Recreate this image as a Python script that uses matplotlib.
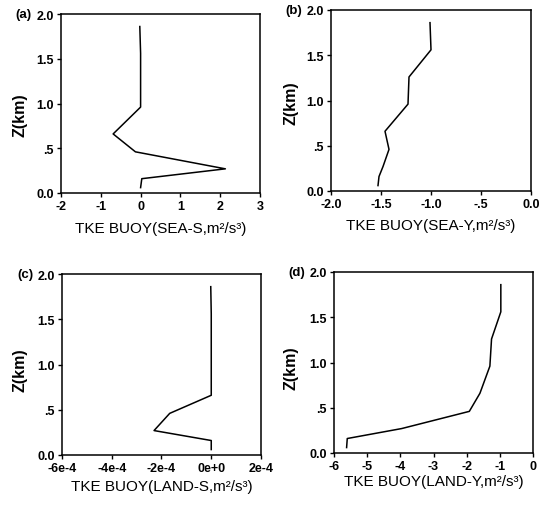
import matplotlib
matplotlib.use("Agg")
import matplotlib.pyplot as plt

plt.rcParams['font.family'] = ['Liberation Sans', 'DejaVu Sans']

# Data (heights in km, buoyancy TKE values)
z_levels = [0.06, 0.16, 0.27, 0.46, 0.66, 0.96, 1.26, 1.56, 1.86]
sea_s = [0.0, 0.03, 2.13, -0.13, -0.69, 0.0, 0.0, 0.0, -0.02]
sea_y = [-1.53, -1.52, -1.48, -1.42, -1.46, -1.23, -1.22, -1.00, -1.01]
land_s = [0.0, 0.0, -2.3e-4, -1.67e-4, 0.0, 0.0, 0.0, 0.0, -0.02e-4]
land_y = [-5.62, -5.60, -3.96, -1.92, -1.60, -1.30, -1.25, -0.97, -0.97]

y_ticks = [0.0, 0.5, 1.0, 1.5, 2.0]
y_ticklabels = ['0.0', '.5', '1.0', '1.5', '2.0']

xt_a = [-2, -1, 0, 1, 2, 3]
xl_a = ['-2', '-1', '0', '1', '2', '3']
xt_b = [-2.0, -1.5, -1.0, -0.5, 0.0]
xl_b = ['-2.0', '-1.5', '-1.0', '-.5', '0.0']
xt_c = [-6e-4, -4e-4, -2e-4, 0.0, 2e-4]
xl_c = ['-6e-4', '-4e-4', '-2e-4', '0e+0', '2e-4']
xt_d = [-6, -5, -4, -3, -2, -1, 0]
xl_d = ['-6', '-5', '-4', '-3', '-2', '-1', '0']

W, H = 542, 510
fig = plt.figure(figsize=(W / 100, H / 100), dpi=100)

def add_axes(l, r, t, b):
    return fig.add_axes([l / W, 1 - b / H, (r - l) / W, (b - t) / H])

panels = [
    ((61, 260, 15, 194), sea_s, xt_a, xl_a, (-2, 3),
     'TKE BUOY(SEA-S,m\u00b2/s\u00b3)', '(a)', -0.155, -0.166, 0.44),
    ((331, 531, 11, 192), sea_y, xt_b, xl_b, (-2.0, 0.0),
     'TKE BUOY(SEA-Y,m\u00b2/s\u00b3)', '(b)', -0.15, -0.165, 0.49),
    ((62, 261, 275, 456), land_s, xt_c, xl_c, (-6e-4, 2e-4),
     'TKE BUOY(LAND-S,m\u00b2/s\u00b3)', '(c)', -0.134, -0.175, 0.475),
    ((334, 533, 273, 454), land_y, xt_d, xl_d, (-6, 0),
     'TKE BUOY(LAND-Y,m\u00b2/s\u00b3)', '(d)', -0.116, -0.176, 0.475),
]

for box, xs, xt, xl, xlim, xlabel, tag, xly, ylx, yly in panels:
    l, r, t, b = box
    ax = add_axes(l, r, t, b)
    ax.plot(xs, z_levels, color='black', lw=1.1)
    ax.set_xlim(*xlim)
    ax.set_ylim(0, 2.0)
    ax.set_xticks(xt)
    ax.set_xticklabels(xl, fontsize=9, fontweight='bold')
    ax.set_yticks(y_ticks)
    ax.set_yticklabels(y_ticklabels, fontsize=9, fontweight='bold')
    ax.tick_params(direction='out', length=3, width=1, pad=2)
    for s in ax.spines.values():
        s.set_linewidth(1.1)
    ax.set_xlabel(xlabel, fontsize=11)
    ax.xaxis.set_label_coords(0.5, xly)
    ax.set_ylabel('Z(km)', fontsize=11.5, fontweight='bold')
    ax.yaxis.set_label_coords(ylx, yly)
    fig.text((l - 29) / W, 1 - t / H, tag, ha='right', va='center',
             fontsize=9.5, fontweight='bold')

fig.savefig('out.png', dpi=100)
